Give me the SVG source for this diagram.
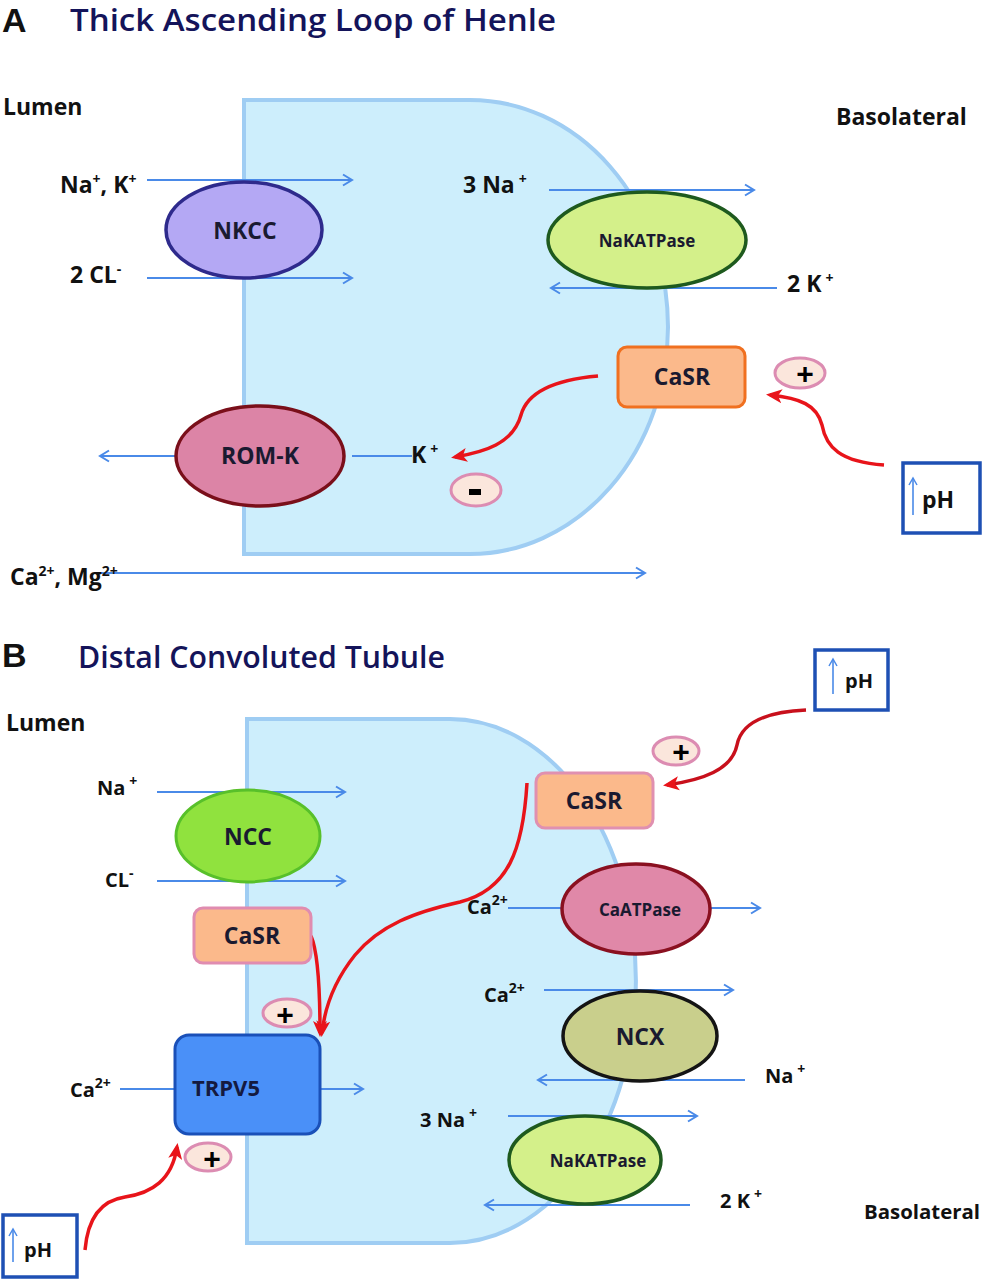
<svg xmlns="http://www.w3.org/2000/svg" width="984" height="1280" viewBox="0 0 984 1280">
<style>
text{font-family:"Open Sans","Liberation Sans",sans-serif;fill:#111;font-weight:700}
.t{font-size:23px}
.s{font-size:20px}
.ttl{font-size:30px;fill:#14145a;font-weight:600}
.big{font-family:"Liberation Sans",sans-serif;font-size:34px;font-weight:bold}
.lbl{font-size:23px;text-anchor:middle;fill:#1a1a30}
.lsm{font-size:17px;text-anchor:middle;fill:#1a1a30}
.cell{fill:#cdeefc;stroke:#9fcdf3;stroke-width:4}
.bl{stroke:#4a8ae8;stroke-width:2;fill:none}
.red{stroke:#e8141a;stroke-width:3.5;fill:none}
.casr{fill:#fbb98b;stroke-width:3}
.pm{fill:#fbe6dc;stroke:#dc8cb2;stroke-width:3}
.pmt{font-family:"Liberation Sans",sans-serif;font-size:30px;font-weight:bold;text-anchor:middle;fill:#000}
.ph{fill:#fff;stroke:#1e50b4;stroke-width:3.5}
.up{stroke:#4a8ae8;stroke-width:1.6;fill:none}
.sup{font-size:14px}
</style>
<defs>
<marker id="ab" markerUnits="userSpaceOnUse" markerWidth="14" markerHeight="14" refX="11" refY="7" orient="auto">
<path d="M2,1.5 L11,7 L2,12.5" fill="none" stroke="#4a8ae8" stroke-width="2"/>
</marker>
<marker id="ar" markerUnits="userSpaceOnUse" markerWidth="18" markerHeight="18" refX="12" refY="9" orient="auto">
<path d="M0,2 L16,9 L0,16 L4,9 Z" fill="#e8141a"/>
</marker>
<marker id="au" markerUnits="userSpaceOnUse" markerWidth="10" markerHeight="10" refX="8" refY="5" orient="auto">
<path d="M1,1 L8,5 L1,9" fill="none" stroke="#4a8ae8" stroke-width="1.5"/>
</marker>
</defs>

<!-- Panel A -->
<text class="big" x="2" y="32">A</text>
<text class="ttl" x="70" y="31" textLength="486" lengthAdjust="spacingAndGlyphs">Thick Ascending Loop of Henle</text>
<text class="t" x="3" y="115">Lumen</text>
<text class="t" x="836" y="125">Basolateral</text>
<path id="cellA" class="cell" d="M244,100 H470 A198,227 0 0 1 470,554 H244 Z"/>

<!-- Panel B -->
<text class="big" x="2" y="667">B</text>
<text class="ttl" x="78" y="668" textLength="367" lengthAdjust="spacingAndGlyphs">Distal Convoluted Tubule</text>
<text class="t" x="6" y="731">Lumen</text>
<text class="s" x="864" y="1219" textLength="116" lengthAdjust="spacingAndGlyphs">Basolateral</text>
<path id="cellB" class="cell" d="M247,719 H450 A186,262 0 0 1 450,1243 H247 Z"/>

<g id="connectors">
<!-- A -->
<line class="bl" x1="147" y1="180" x2="352" y2="180" marker-end="url(#ab)"/>
<line class="bl" x1="147" y1="278" x2="352" y2="278" marker-end="url(#ab)"/>
<line class="bl" x1="549" y1="190" x2="754" y2="190" marker-end="url(#ab)"/>
<line class="bl" x1="777" y1="288" x2="551" y2="288" marker-end="url(#ab)"/>
<line class="bl" x1="352" y1="456" x2="412" y2="456"/>
<line class="bl" x1="176" y1="456" x2="100" y2="456" marker-end="url(#ab)"/>
<line class="bl" x1="95" y1="573" x2="645" y2="573" marker-end="url(#ab)"/>
<path class="red" d="M884,465 C840,462 826,447 822,425 C817,405 800,398 770,395" marker-end="url(#ar)"/>
<path class="red" d="M598,376 C552,380 527,393 521,415 C513,444 484,452 455,457" marker-end="url(#ar)"/>
<!-- B -->
<line class="bl" x1="157" y1="792" x2="345" y2="792" marker-end="url(#ab)"/>
<line class="bl" x1="157" y1="881" x2="345" y2="881" marker-end="url(#ab)"/>
<line class="bl" x1="120" y1="1089" x2="176" y2="1089"/>
<line class="bl" x1="320" y1="1089" x2="363" y2="1089" marker-end="url(#ab)"/>
<line class="bl" x1="508" y1="908" x2="563" y2="908"/>
<line class="bl" x1="709" y1="908" x2="760" y2="908" marker-end="url(#ab)"/>
<line class="bl" x1="544" y1="990" x2="733" y2="990" marker-end="url(#ab)"/>
<line class="bl" x1="745" y1="1080" x2="538" y2="1080" marker-end="url(#ab)"/>
<line class="bl" x1="508" y1="1116" x2="697" y2="1116" marker-end="url(#ab)"/>
<line class="bl" x1="690" y1="1205" x2="485" y2="1205" marker-end="url(#ab)"/>
<path class="red" d="M806,710 C762,712 741,724 737,745 C732,770 702,780 667,785" marker-end="url(#ar)" style="stroke:#c8101c"/>
<path class="red" d="M527,783 C523,850 508,890 460,902 C415,912 380,925 355,955 C335,980 325,1005 322,1033" marker-end="url(#ar)"/>
<path class="red" d="M311,936 C318,952 320,985 320,1033" marker-end="url(#ar)"/>
<path class="red" d="M85,1250 C88,1215 104,1200 125,1197 C152,1193 172,1180 177,1147" marker-end="url(#ar)"/>
</g>

<!-- Nodes A -->
<g id="nkcc"><ellipse cx="244" cy="230" rx="78" ry="48" fill="#b4a8f4" stroke="#2e2a8c" stroke-width="3.5"/><text class="lbl" x="245" y="239">NKCC</text></g>
<g id="nakatpaseA"><ellipse cx="647" cy="240" rx="99" ry="48" fill="#d4f08a" stroke="#1e5a1e" stroke-width="3.5"/><text class="lsm" x="647" y="247">NaKATPase</text></g>
<g id="casrA"><rect x="618" y="347" width="127" height="60" rx="9" class="casr" stroke="#f07020"/><text class="lbl" x="682" y="385">CaSR</text></g>
<g id="plusA"><ellipse cx="800" cy="373" rx="25" ry="15" class="pm"/><text class="pmt" x="805" y="384">+</text></g>
<g id="phA"><rect x="903" y="463" width="77" height="70" class="ph"/><line class="up" x1="913" y1="515" x2="913" y2="478" marker-end="url(#au)"/><text class="t" x="922" y="508">pH</text></g>
<g id="romk"><ellipse cx="260" cy="456" rx="84" ry="50" fill="#dc84a6" stroke="#7a0f1a" stroke-width="3.5"/><text class="lbl" x="260" y="464">ROM-K</text></g>
<g id="minusA"><ellipse cx="476" cy="490" rx="25" ry="16" class="pm"/><rect x="469" y="489" width="12" height="6" fill="#000"/></g>
<g id="labelsA">
<text class="t" x="60" y="193">Na<tspan class="sup" dy="-9">+</tspan><tspan dy="9">, K</tspan><tspan class="sup" dy="-9">+</tspan></text>
<text class="t" x="70" y="283">2 CL<tspan class="sup" dy="-9">-</tspan></text>
<text class="t" x="463" y="193">3 Na<tspan class="sup" dx="4" dy="-9">+</tspan></text>
<text class="t" x="787" y="292">2 K<tspan class="sup" dx="4" dy="-9">+</tspan></text>
<text class="t" x="411" y="463">K<tspan class="sup" dx="4" dy="-9">+</tspan></text>
<text class="t" x="10" y="585">Ca<tspan class="sup" dy="-9">2+</tspan><tspan dy="9">, Mg</tspan><tspan class="sup" dy="-9">2+</tspan></text>
</g>

<!-- Nodes B -->
<g id="ncc"><ellipse cx="248" cy="836" rx="72" ry="46" fill="#90e23e" stroke="#58c02a" stroke-width="3"/><text class="lbl" x="248" y="845">NCC</text></g>
<g id="casrBl"><rect x="194" y="908" width="117" height="55" rx="9" class="casr" stroke="#e08cb0"/><text class="lbl" x="252" y="944">CaSR</text></g>
<g id="plusB1"><ellipse cx="287" cy="1013" rx="24" ry="14" class="pm"/><text class="pmt" x="285" y="1025">+</text></g>
<g id="trpv5"><rect x="175" y="1035" width="145" height="99" rx="14" fill="#4a90f8" stroke="#1a50b8" stroke-width="3"/><text x="192" y="1096" style="font-size:22px;fill:#141a40">TRPV5</text></g>
<g id="plusB2"><ellipse cx="208" cy="1157" rx="23" ry="14" class="pm"/><text class="pmt" x="212" y="1169">+</text></g>
<g id="phB1"><rect x="3" y="1215" width="74" height="62" class="ph"/><line class="up" x1="13" y1="1262" x2="13" y2="1229" marker-end="url(#au)"/><text class="s" x="24" y="1257">pH</text></g>
<g id="casrBr"><rect x="536" y="773" width="117" height="55" rx="9" class="casr" stroke="#e090b0"/><text class="lbl" x="594" y="809">CaSR</text></g>
<g id="plusB3"><ellipse cx="676" cy="751" rx="23" ry="14" class="pm"/><text class="pmt" x="681" y="762">+</text></g>
<g id="phB2"><rect x="815" y="650" width="73" height="60" class="ph"/><line class="up" x1="833" y1="694" x2="833" y2="659" marker-end="url(#au)"/><text class="s" x="845" y="688">pH</text></g>
<g id="caatpase"><ellipse cx="636" cy="909" rx="74" ry="45" fill="#e088a8" stroke="#8a1020" stroke-width="3.5"/><text class="lsm" x="640" y="916">CaATPase</text></g>
<g id="ncx"><ellipse cx="640" cy="1036" rx="77" ry="45" fill="#c9cf8c" stroke="#141414" stroke-width="3.5"/><text class="lbl" x="640" y="1045">NCX</text></g>
<g id="nakatpaseB"><ellipse cx="585" cy="1160" rx="76" ry="44" fill="#d4f08a" stroke="#1e5a1e" stroke-width="3.5"/><text class="lsm" x="598" y="1167">NaKATPase</text></g>
<g id="labelsB">
<text class="s" x="97" y="795">Na<tspan class="sup" dx="4" dy="-9">+</tspan></text>
<text class="s" x="105" y="887">CL<tspan class="sup" dy="-9">-</tspan></text>
<text class="s" x="70" y="1097">Ca<tspan class="sup" dy="-9">2+</tspan></text>
<text class="s" x="467" y="914">Ca<tspan class="sup" dy="-9">2+</tspan></text>
<text class="s" x="484" y="1002">Ca<tspan class="sup" dy="-9">2+</tspan></text>
<text class="s" x="765" y="1083">Na<tspan class="sup" dx="4" dy="-9">+</tspan></text>
<text class="s" x="420" y="1127">3 Na<tspan class="sup" dx="4" dy="-9">+</tspan></text>
<text class="s" x="720" y="1208">2 K<tspan class="sup" dx="4" dy="-9">+</tspan></text>
</g>
</svg>
